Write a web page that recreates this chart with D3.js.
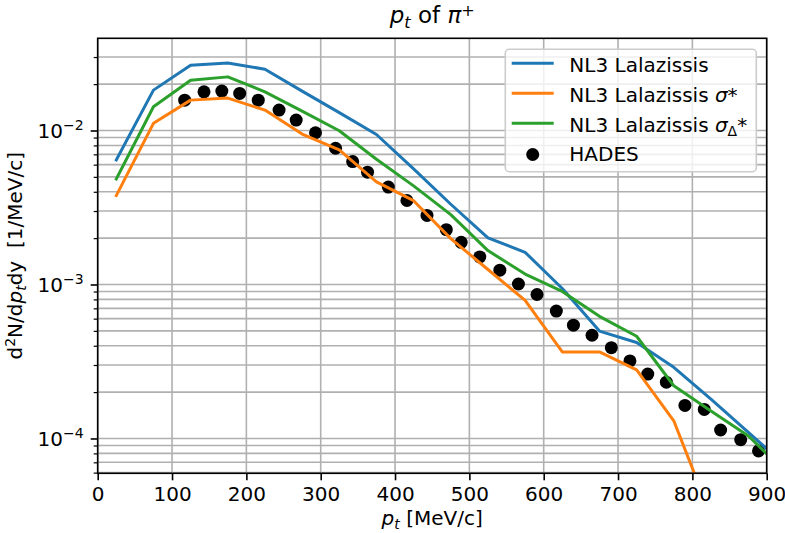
<!DOCTYPE html>
<html><head><meta charset="utf-8">
<script src="https://cdn.jsdelivr.net/npm/d3@7"></script>
<style>
body{margin:0;background:#fff}
svg{display:block}
text{font-family:"DejaVu Sans",sans-serif;fill:#000;white-space:pre}
</style>
</head><body>
<svg id="c" width="785" height="533"></svg>
<script>
// ---------------- data ----------------
const modelPt = [25,75,125,175,225,275,325,375,425,475,525,575,625,675,725,775,825,875,925];
const nl3 = [6.44e-3,0.01829,0.02653,0.02747,0.02500,0.01802,0.01307,9.42e-3,5.63e-3,3.32e-3,2.006e-3,1.618e-3,9.42e-4,4.98e-4,4.20e-4,2.90e-4,1.80e-4,1.101e-4,6.67e-5];
const nl3Sigma = [3.78e-3,0.01113,0.01575,0.01623,0.01357,9.49e-3,7.48e-3,4.64e-3,3.50e-3,1.985e-3,1.251e-3,7.88e-4,3.65e-4,3.65e-4,2.79e-4,1.303e-4,3.15e-5,null,null];
const nl3SigmaDelta = [4.85e-3,0.01426,0.02123,0.02230,0.01783,0.01337,9.97e-3,6.51e-3,4.37e-3,2.84e-3,1.66e-3,1.169e-3,9.01e-4,6.21e-4,4.61e-4,2.20e-4,1.507e-4,1.042e-4,6.07e-5];
const hadesPt = [117,143,167,191,216,244,267,293,320,343,363,391,416,443,469,489,514,541,566,591,617,640,665,691,716,740,765,790,816,838,865,889];
const hadesVal = [0.01575,0.01783,0.01802,0.01741,0.01575,0.01357,0.01169,9.67e-3,7.67e-3,6.28e-3,5.36e-3,4.29e-3,3.51e-3,2.81e-3,2.27e-3,1.878e-3,1.511e-3,1.238e-3,1.007e-3,8.61e-4,6.72e-4,5.44e-4,4.68e-4,3.89e-4,3.19e-4,2.62e-4,2.32e-4,1.64e-4,1.545e-4,1.135e-4,9.82e-5,8.30e-5];
const xTicks = [0,100,200,300,400,500,600,700,800,900];
const yMajorExp = [-4,-3,-2];
const seriesColors = ["#1f77b4","#ff7f0e","#2ca02c"];

// ---------------- layout ----------------
const W = 785, H = 533;
const L = 97.7, R = 766.7, T = 38.3, B = 473.3;
const FS = 20;
const svg = d3.select("#c");
const x = d3.scaleLinear().domain([0,900]).range([L,R]);
const y = d3.scaleLog().domain([5.94e-5,0.0397]).range([B,T]);
const [ylo, yhi] = y.domain();

function rich(t, parts, fs, supShift){
  const ss = supShift == null ? 0.37 : supShift;
  let cur = 0;
  parts.forEach(p=>{
    const target = p.sub ? fs*0.22 : (p.sup ? -fs*ss : 0);
    t.append("tspan")
      .attr("dy", target-cur)
      .attr("font-size", (p.sub||p.sup) ? fs*0.7 : fs)
      .attr("font-style", p.it ? "italic" : "normal")
      .text(p.t);
    cur = target;
  });
}

// all y grid values (major + minor)
const yGridVals = [];
const yMinorVals = [];
for (let k=-6;k<=0;k++){
  for (let m=1;m<=9;m++){
    const v = m*Math.pow(10,k);
    if (v>=ylo && v<=yhi){ yGridVals.push(v); if (m!==1) yMinorVals.push(v); }
  }
}

// grid
const grid = svg.append("g");
grid.selectAll("line.gx").data(xTicks).join("line")
  .attr("x1",d=>x(d)).attr("x2",d=>x(d)).attr("y1",T).attr("y2",B)
  .attr("stroke","#b0b0b0").attr("stroke-width",1.6);
grid.selectAll("line.gy").data(yGridVals).join("line")
  .attr("x1",L).attr("x2",R).attr("y1",d=>y(d)).attr("y2",d=>y(d))
  .attr("stroke","#b0b0b0").attr("stroke-width",1.6);

// clip
svg.append("clipPath").attr("id","clip").append("rect")
  .attr("x",L).attr("y",T).attr("width",R-L).attr("height",B-T);
const plot = svg.append("g").attr("clip-path","url(#clip)");

// scatter (below lines)
const hades = hadesPt.map((p,i)=>[p,hadesVal[i]]);
plot.selectAll("circle").data(hades).join("circle")
  .attr("cx",d=>x(d[0])).attr("cy",d=>y(d[1])).attr("r",6.5).attr("fill","#000");

// lines
const series = [nl3, nl3Sigma, nl3SigmaDelta];
const line = d3.line().defined(d=>d[1]!=null).x(d=>x(d[0])).y(d=>y(d[1]));
series.forEach((s,i)=>{
  plot.append("path").datum(modelPt.map((p,j)=>[p,s[j]]))
    .attr("d",line).attr("fill","none").attr("stroke",seriesColors[i])
    .attr("stroke-width",3).attr("stroke-linejoin","round").attr("stroke-linecap","square");
});

// frame
svg.append("rect").attr("x",L).attr("y",T).attr("width",R-L).attr("height",B-T)
  .attr("fill","none").attr("stroke","#000").attr("stroke-width",1.6);

// x axis
const xAxis = d3.axisBottom(x).tickValues(xTicks).tickSize(7).tickPadding(7).tickFormat(d3.format("d"));
const gx = svg.append("g").attr("transform",`translate(0,${B})`).call(xAxis);
gx.select(".domain").remove();
gx.selectAll(".tick line").attr("stroke","#000").attr("stroke-width",1.6);
gx.selectAll(".tick text").attr("font-size",FS).attr("font-family","DejaVu Sans").attr("fill","#000")
  .attr("dy",null).attr("y",28.2);

// y axis major ticks
const gyMaj = svg.append("g").attr("transform",`translate(${L},0)`)
  .call(d3.axisLeft(y).tickValues(yMajorExp.map(e=>Math.pow(10,e))).tickSize(7).tickFormat(""));
gyMaj.select(".domain").remove();
gyMaj.selectAll(".tick line").attr("stroke","#000").attr("stroke-width",1.6);
const gyMin = svg.append("g").attr("transform",`translate(${L},0)`)
  .call(d3.axisLeft(y).tickValues(yMinorVals).tickSize(4).tickFormat(""));
gyMin.select(".domain").remove();
gyMin.selectAll(".tick line").attr("stroke","#000").attr("stroke-width",1.2);

// y tick labels
yMajorExp.forEach(e=>{
  const t = svg.append("text").attr("x",L-14).attr("y",y(Math.pow(10,e))+7.2)
    .attr("text-anchor","end").attr("font-size",FS);
  rich(t,[{t:"10"},{t:"\u2212"+Math.abs(e),sup:true}],FS);
});

// axis labels
const xl = svg.append("text").attr("x",(L+R)/2).attr("y",525).attr("text-anchor","middle").attr("font-size",FS);
rich(xl,[{t:"p",it:true},{t:"t",it:true,sub:true},{t:" [MeV/c]"}],FS);

const yl = svg.append("text").attr("transform",`translate(22,${(T+B)/2}) rotate(-90)`)
  .attr("text-anchor","middle").attr("font-size",FS);
rich(yl,[{t:"d"},{t:"2",sup:true},{t:"N/d"},{t:"p",it:true},{t:"t",it:true,sub:true},{t:"dy  [1/MeV/c]"}],FS);

// title
const tt = svg.append("text").attr("x",(L+R)/2).attr("y",23).attr("text-anchor","middle").attr("font-size",23);
rich(tt,[{t:"p",it:true},{t:"t",it:true,sub:true},{t:" of "},{t:"\u03c0",it:true},{t:"+",sup:true}],23,0.3);

// legend
const lg = svg.append("g");
lg.append("rect").attr("x",505.3).attr("y",49.3).attr("width",251).attr("height",122.4).attr("rx",4)
  .attr("fill","#fff").attr("fill-opacity",0.8).attr("stroke","#cccccc").attr("stroke-width",1.6);
const legendItems = [
  {parts:[{t:"NL3 Lalazissis"}], color:seriesColors[0], hy:63.3, ty:71.7},
  {parts:[{t:"NL3 Lalazissis "},{t:"\u03c3",it:true},{t:"*"}], color:seriesColors[1], hy:93.3, ty:101.7},
  {parts:[{t:"NL3 Lalazissis "},{t:"\u03c3",it:true},{t:"\u0394",sub:true},{t:"*"}], color:seriesColors[2], hy:123.3, ty:131.7},
  {parts:[{t:"HADES"}], color:null, hy:154.5, ty:160.5}
];
legendItems.forEach(it=>{
  if (it.color){
    lg.append("line").attr("x1",511.7).attr("x2",553.7).attr("y1",it.hy).attr("y2",it.hy)
      .attr("stroke",it.color).attr("stroke-width",3);
  } else {
    lg.append("circle").attr("cx",532.7).attr("cy",it.hy).attr("r",6.5).attr("fill","#000");
  }
  const t = lg.append("text").attr("x",569.3).attr("y",it.ty).attr("font-size",FS);
  rich(t,it.parts,FS);
});
</script>
</body></html>
